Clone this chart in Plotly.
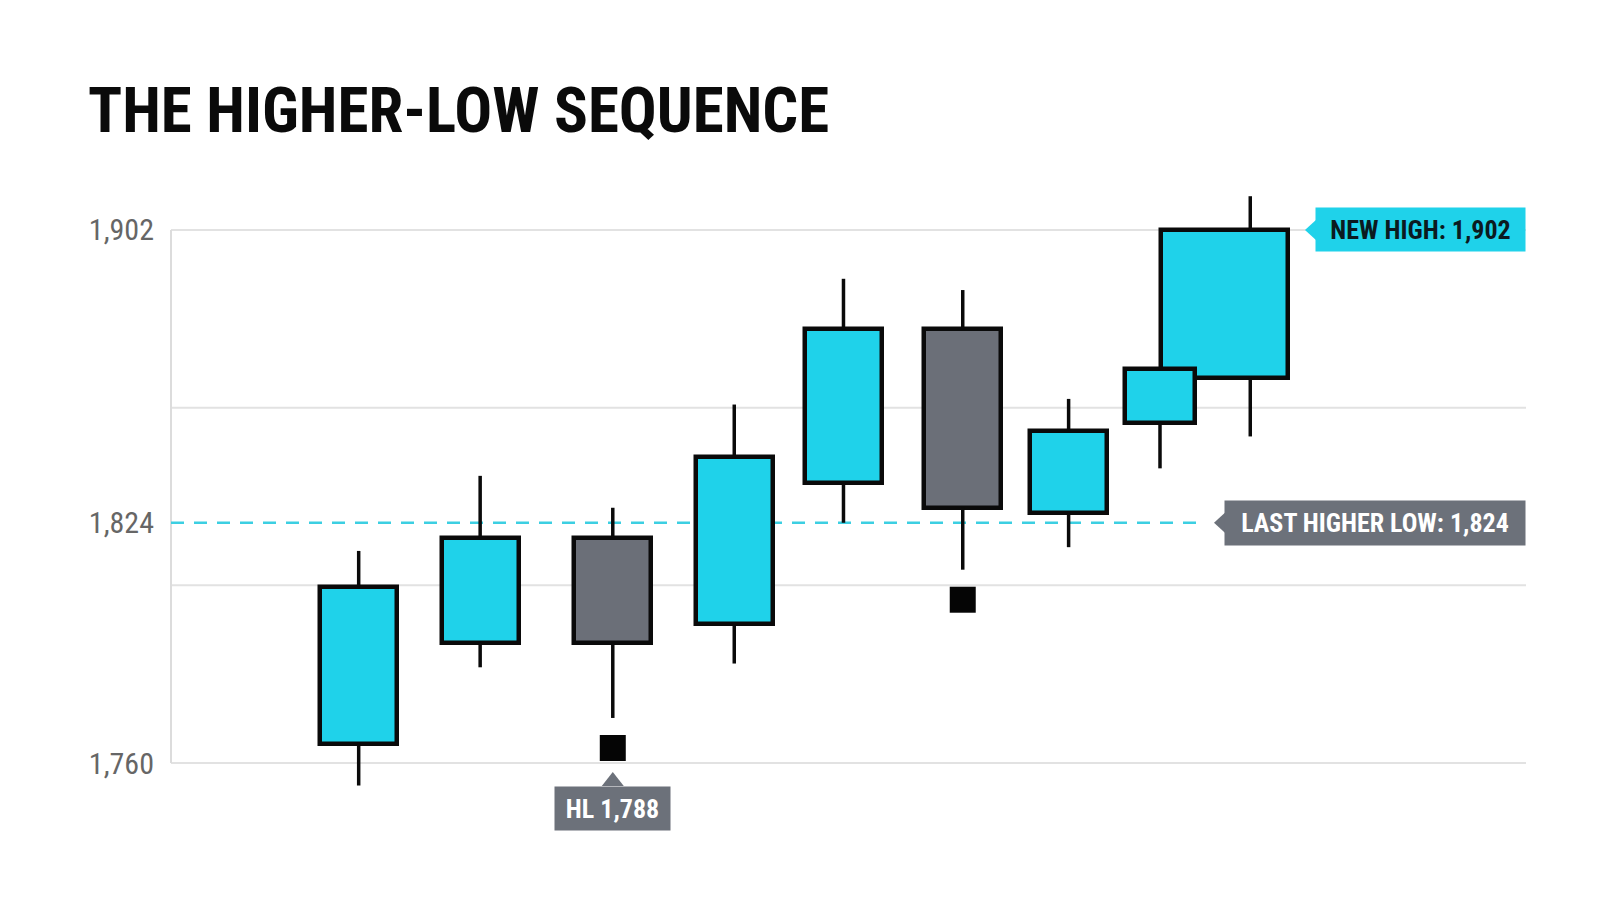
import numpy as np
import plotly.graph_objects as go

# OHLC; bar_time is the candle position in bar units
bar_time = [0.0, 1.09, 2.28, 3.37, 4.35, 5.42, 6.37, 7.19, 8.0]
opens = [1765, 1792, 1820, 1797, 1834.5, 1875.5, 1826.5, 1850.5, 1862.5]
highs = [1816.5, 1836.5, 1828, 1855.5, 1889, 1886, 1857, 1865, 1911]
lows = [1754, 1785.5, 1772, 1786.5, 1824, 1811.5, 1817.5, 1838.5, 1847]
closes = [1807, 1820, 1792, 1841.5, 1875.5, 1828, 1848.5, 1865, 1902]

tick_vals = [1760, 1824, 1902]
pivot_idx = [2, 5]          # higher-low pivots (black squares)
last_higher_low = 1824
new_high = 1902
hl_text = "HL 1,788"

# styling
CYAN = "#1FD2EA"
GREY = "#6B6F78"
LABEL_GREY = "#6C717A"
FONT = "Roboto Condensed, Liberation Sans Narrow, Arial Narrow, DejaVu Sans Condensed, sans-serif"
body_w = [0.69] * 7 + [0.63, 1.14]
body_off = [-w / 2 for w in body_w[:-1]] + [-0.80]
L, R, T, B = 163, 82, 150, 84
plot_w = 1600 - L - R

n = len(opens)
colors = [CYAN if c >= o else GREY for o, c in zip(opens, closes)]
bottoms = [min(o, c) for o, c in zip(opens, closes)]
tops = [max(o, c) for o, c in zip(opens, closes)]

fig = go.Figure()

# wicks: lower and upper segments so they never cross the bodies
wx, wy = [], []
for i in range(n):
    wx += [bar_time[i], bar_time[i], None, bar_time[i], bar_time[i], None]
    wy += [lows[i], bottoms[i], None, tops[i], highs[i], None]
fig.add_trace(go.Scatter(x=wx, y=wy, mode="lines", line=dict(color="#0A0A0A", width=3.5),
                         hoverinfo="skip", showlegend=False))

# bodies, widest drawn first so the narrower neighbour sits on top
order = sorted(range(n), key=lambda i: -body_w[i])
fig.add_trace(go.Bar(
    x=[bar_time[i] for i in order],
    y=[tops[i] - bottoms[i] for i in order],
    base=[bottoms[i] for i in order],
    width=[body_w[i] for i in order],
    offset=[body_off[i] for i in order],
    marker=dict(color=[colors[i] for i in order], line=dict(color="#0A0A0A", width=4.5)),
    showlegend=False,
))

# pivot markers a little under the lows
fig.add_trace(go.Scatter(
    x=[bar_time[i] for i in pivot_idx],
    y=[lows[i] - 8 for i in pivot_idx],
    mode="markers",
    marker=dict(symbol="square", size=26, color="#050505"),
    showlegend=False,
))

shapes = []
for lvl in np.linspace(tick_vals[0], tick_vals[-1], 4):
    shapes.append(dict(type="line", xref="paper", x0=0, x1=1, yref="y", y0=lvl, y1=lvl,
                       line=dict(color="#E2E2E2", width=2), layer="below"))
shapes.append(dict(type="line", xref="paper", x0=0, x1=0, yref="y", y0=tick_vals[0], y1=tick_vals[-1],
                   line=dict(color="#DCDCDC", width=2), layer="below"))
shapes.append(dict(type="line", xref="paper", x0=0, x1=1 - 325 / plot_w, yref="y",
                   y0=last_higher_low, y1=last_higher_low,
                   line=dict(color="#3CCFE2", width=2.5, dash="13px,10px"), layer="below"))

# callout pointers
shapes.append(dict(type="path", xref="paper", xsizemode="pixel", xanchor=1, yref="y",
                   ysizemode="pixel", yanchor=new_high, path="M -221,0 L -209,-11 L -209,11 Z",
                   fillcolor=CYAN, line=dict(width=0)))
shapes.append(dict(type="path", xref="paper", xsizemode="pixel", xanchor=1, yref="y",
                   ysizemode="pixel", yanchor=last_higher_low, path="M -312,0 L -300,-11 L -300,11 Z",
                   fillcolor=LABEL_GREY, line=dict(width=0)))
hl_y = lows[pivot_idx[0]] - 8
shapes.append(dict(type="path", xref="x", xsizemode="pixel", xanchor=bar_time[pivot_idx[0]], yref="y",
                   ysizemode="pixel", yanchor=hl_y, path="M 0,-24 L -11,-38 L 11,-38 Z",
                   fillcolor=LABEL_GREY, line=dict(width=0)))

annotations = [
    dict(text="NEW HIGH: 1,902", xref="paper", x=1, xanchor="right", yref="y", y=new_high,
         yanchor="middle", showarrow=False, bgcolor=CYAN, width=209, height=43, borderpad=0,
         font=dict(family=FONT, size=26, color="#0B1A20", weight=700)),
    dict(text="LAST HIGHER LOW: 1,824", xref="paper", x=1, xanchor="right", yref="y", y=last_higher_low,
         yanchor="middle", showarrow=False, bgcolor=LABEL_GREY, width=300, height=44, borderpad=0,
         font=dict(family=FONT, size=26, color="white", weight=700)),
    dict(text=hl_text, xref="x", x=bar_time[pivot_idx[0]], xanchor="center", yref="y", y=hl_y,
         yanchor="top", yshift=-38, showarrow=False, bgcolor=LABEL_GREY, width=115, height=43, borderpad=0,
         font=dict(family=FONT, size=26, color="white", weight=700)),
]

fig.update_layout(
    width=1600, height=914,
    margin=dict(l=L, r=R, t=T, b=B),
    paper_bgcolor="white", plot_bgcolor="white",
    title=dict(text="THE HIGHER-LOW SEQUENCE", x=80 / 1600, xref="container", xanchor="left",
               y=1 - 80 / 914, yref="container", yanchor="top",
               font=dict(family=FONT, size=63, color="#0A0A0A", weight=700)),
    xaxis=dict(range=[-1.684, 10.474], showticklabels=False, showgrid=False, zeroline=False,
               showline=False, fixedrange=True),
    yaxis=dict(range=[1740.02, 1921.18], tickvals=tick_vals, tickformat=",", showgrid=False,
               zeroline=False, showline=False, ticks="", ticklabelstandoff=16,
               tickfont=dict(family=FONT, size=30, color="#666666")),
    shapes=shapes,
    annotations=annotations,
    barmode="overlay",
    bargap=0,
)

fig.write_html("out.html")
